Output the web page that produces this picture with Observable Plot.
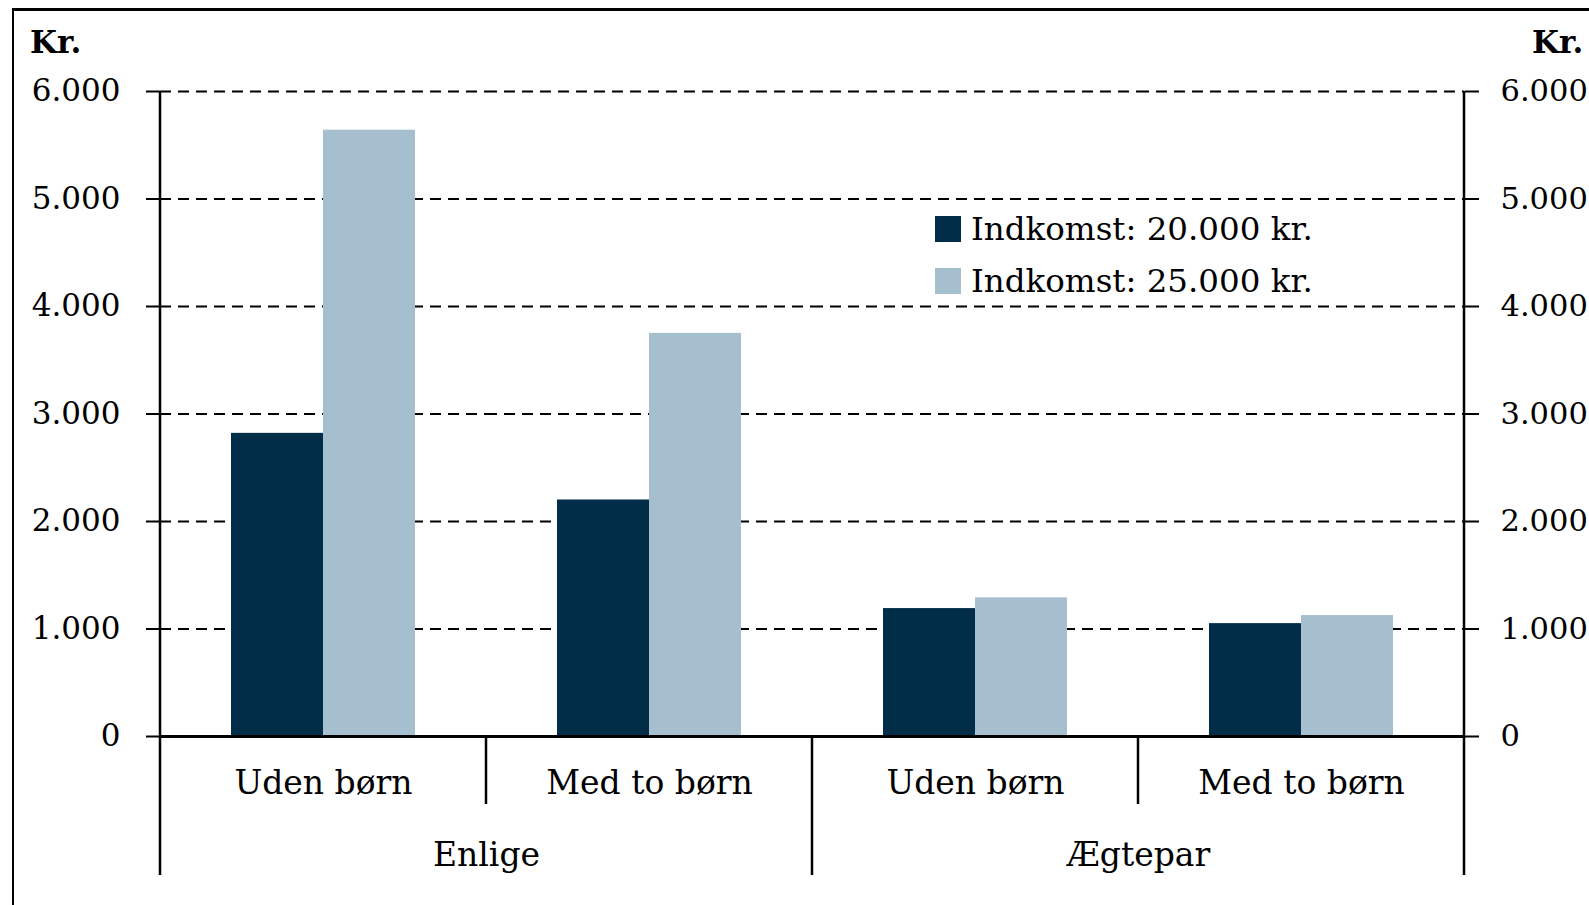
<!DOCTYPE html>
<html><head><meta charset="utf-8">
<script src="https://cdn.jsdelivr.net/npm/d3@7"></script>
<script src="https://cdn.jsdelivr.net/npm/@observablehq/plot@0.6"></script>
<style>
html,body{margin:0;padding:0;background:#fff;overflow:hidden;width:1589px;height:905px;}
#wrap{position:relative;width:1589px;height:905px;font-family:"DejaVu Serif",serif;color:#000;overflow:hidden;}
#frame{position:absolute;left:12px;top:8px;width:2000px;height:2000px;border-left:2px solid #000;border-top:3px solid #000;box-sizing:border-box;}
#chart{position:absolute;left:0;top:0;}
.unit{position:absolute;font-weight:bold;font-size:31px;line-height:1;white-space:nowrap;}
#legend{position:absolute;left:935px;top:203px;font-size:32.5px;}
#legend .row{display:flex;align-items:center;height:52px;white-space:nowrap;}
#legend .sw{width:26px;height:26px;margin-right:10px;}
</style></head>
<body>
<div id="wrap">
  <div id="frame"></div>
  <div id="chart"></div>
  <div class="unit" style="left:30px;top:27px;">Kr.</div>
  <div class="unit" style="left:1532px;top:27px;">Kr.</div>
  <div id="legend"></div>
</div>
<script>
const groups = ["Enlige", "Enlige", "Ægtepar", "Ægtepar"];
const subgroups = ["Uden børn", "Med to børn", "Uden børn", "Med to børn"];
const series = ["Indkomst: 20.000 kr.", "Indkomst: 25.000 kr."];
const values20 = [2820, 2200, 1190, 1050];
const values25 = [5640, 3750, 1290, 1125];
const yTicks = [0, 1000, 2000, 3000, 4000, 5000, 6000];
const colors = ["#022d48", "#a5bfce"];

const keys = groups.map((g, i) => g + "|" + subgroups[i]);
const bars = [];
keys.forEach((k, i) => {
  bars.push({key: k, series: series[0], value: values20[i]});
  bars.push({key: k, series: series[1], value: values25[i]});
});
const subLabels = keys.map((k, i) => ({key: k, text: subgroups[i]}));
const groupLabels = keys.filter((k, i) => i === 0 || groups[i] !== groups[i - 1])
  .map(k => ({key: k, text: k.split("|")[0]}));

const loc = d3.formatLocale({decimal: ",", thousands: ".", grouping: [3], currency: ["", " kr."]});
const fmt = loc.format(",");

const plot = Plot.plot({
  width: 1589,
  height: 905,
  marginLeft: 159,
  marginRight: 125,
  marginTop: 91,
  marginBottom: 169,
  style: {fontFamily: "DejaVu Serif, serif", fontSize: "31px", color: "#000", background: "transparent", overflow: "visible"},
  fx: {domain: keys, padding: 0, axis: null},
  x: {domain: series, paddingInner: 0, paddingOuter: 0.766, axis: null},
  y: {domain: [0, 6000], axis: null},
  color: {domain: series, range: colors},
  marks: [
    Plot.ruleY(yTicks.filter(d => d > 0), {y: d => d, stroke: "#000", strokeWidth: 2, strokeDasharray: "11,7"}),
    Plot.barY(bars, {fx: "key", x: "series", y: "value", fill: "series"}),
    Plot.ruleY([0], {stroke: "#000", strokeWidth: 3}),
    Plot.axisY({anchor: "left", ticks: yTicks, tickFormat: fmt, tickSize: 14, tickPadding: 26, strokeWidth: 2, fontSize: 31, label: null}),
    Plot.axisY({anchor: "right", ticks: yTicks, tickFormat: fmt, tickSize: 14, tickPadding: 22, strokeWidth: 2, fontSize: 30.5, label: null}),
    Plot.text(subLabels, {fx: "key", text: "text", frameAnchor: "bottom", dy: 57, fontSize: 33}),
    Plot.text(groupLabels, {fx: "key", text: "text", frameAnchor: "bottom-right", textAnchor: "middle", dy: 129, fontSize: 33})
  ]
});
document.getElementById("chart").appendChild(plot);

// hierarchical category axis dividers from Plot's own scales
const fxS = plot.scale("fx");
const yS = plot.scale("y");
const bw = fxS.bandwidth;
const y0 = yS.apply(0), yTop = yS.apply(6000);
const segs = [];
keys.forEach((k, i) => {
  const x = fxS.apply(k);
  const major = i === 0 || groups[i] !== groups[i - 1];
  segs.push({x, y1: i === 0 ? yTop : y0, y2: y0 + (major ? 139 : 68)});
});
segs.push({x: fxS.apply(keys[keys.length - 1]) + bw, y1: yTop, y2: y0 + 139});
d3.select(plot).append("g").attr("stroke", "#000").attr("stroke-width", 2.5)
  .selectAll("line").data(segs).join("line")
  .attr("x1", d => d.x).attr("x2", d => d.x).attr("y1", d => d.y1).attr("y2", d => d.y2);

const leg = d3.select("#legend");
series.forEach((s, i) => {
  const r = leg.append("div").attr("class", "row");
  r.append("div").attr("class", "sw").style("background", colors[i]);
  r.append("span").text(s);
});
</script>
</body></html>
